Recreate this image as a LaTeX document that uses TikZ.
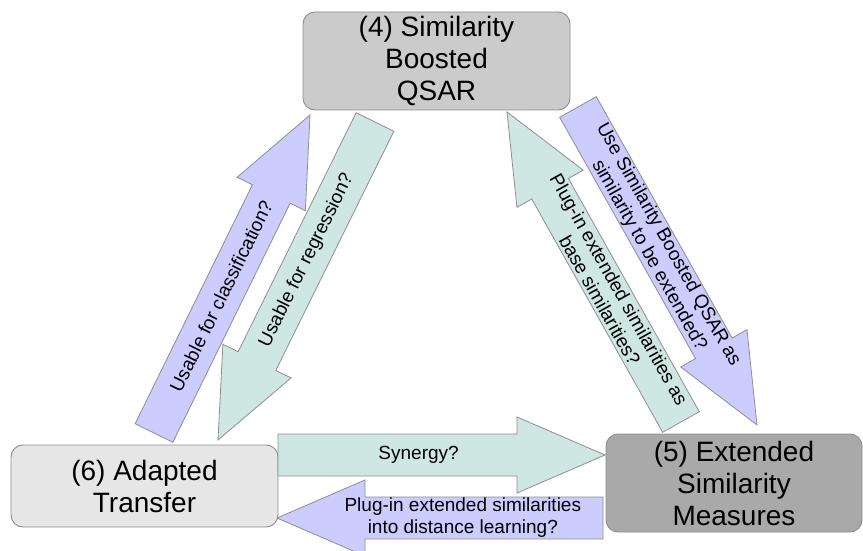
\documentclass[tikz,border=0pt]{standalone}
\usepackage{fontspec}
\setmainfont{Liberation Sans}
\usetikzlibrary{calc}

\definecolor{edgegray}{HTML}{8E8E8E}
\definecolor{boxA}{HTML}{CBCBCB}
\definecolor{boxB}{HTML}{A9A9A9}
\definecolor{boxC}{HTML}{E6E6E6}
\definecolor{lilac}{HTML}{CCCCFF}
\definecolor{mint}{HTML}{CFE7E3}

\tikzset{
  topicbox/.style={draw=edgegray, line width=0.9pt, rounded corners=12pt,
    align=center, inner sep=0pt, font=\fontsize{28}{32}\selectfont},
  arrowshape/.style={draw=edgegray, line width=0.8pt, line join=miter},
  arrowlabel/.style={align=center, inner sep=0pt, font=\fontsize{19}{22}\selectfont}
}

% block arrow from tail coordinate #1 to tip coordinate #2, filled with #3
\newcommand\blockarrow[3]{%
  \coordinate (#1-base) at ($(#2)!88pt!(#1)$);
  \filldraw[arrowshape, fill=#3]
    ($(#1)!21pt!90:(#2)$) -- ($(#1-base)!21pt!90:(#2)$) --
    ($(#1-base)!38pt!90:(#2)$) -- (#2) --
    ($(#1-base)!38pt!-90:(#2)$) -- ($(#1-base)!21pt!-90:(#2)$) --
    ($(#1)!21pt!-90:(#2)$) -- cycle;
}

\begin{document}
\begin{tikzpicture}[x=1pt, y=-1pt]
  \useasboundingbox (0,0) rectangle (863,551);

  % the three topics
  \node[topicbox, fill=boxA, minimum width=267pt, minimum height=98pt]
    (sbq) at (436.5,61) {(4) Similarity\\Boosted\\QSAR};
  \node[topicbox, fill=boxC, minimum width=267pt, minimum height=82pt]
    (adt) at (144.5,486) {(6) Adapted\\Transfer};
  \node[topicbox, fill=boxB, minimum width=256pt, minimum height=98pt]
    (esm) at (734,483) {(5) Extended\\Similarity\\Measures};

  % arrow end points
  \coordinate (clsT) at (154,433);  \coordinate (clsP) at (310,115);
  \coordinate (regT) at (375,122);  \coordinate (regP) at (218,440);
  \coordinate (useT) at (578,107);  \coordinate (useP) at (757,425);
  \coordinate (plgT) at (681,422);  \coordinate (plgP) at (507,112);
  \coordinate (synT) at (278,455);  \coordinate (synP) at (605,455);
  \coordinate (dstT) at (603,518);  \coordinate (dstP) at (277,518);

  \blockarrow{clsT}{clsP}{lilac}
  \blockarrow{regT}{regP}{mint}
  \blockarrow{useT}{useP}{lilac}
  \blockarrow{plgT}{plgP}{mint}
  \blockarrow{synT}{synP}{mint}
  \blockarrow{dstT}{dstP}{lilac}

  % labels along the arrows
  \path (clsT) -- (clsP) node[arrowlabel, sloped, pos=0.43] (clsL) {Usable for classification?};
  \path (regT) -- (regP) node[arrowlabel, sloped, pos=0.435] (regL) {Usable for regression?};
  \path (useT) -- (useP) node[arrowlabel, sloped, pos=0.45] (useL)
    {Use Similarity Boosted QSAR as\\similarity to be extended?};
  \path (plgT) -- (plgP) node[arrowlabel, sloped, pos=0.41] (plgL)
    {Plug-in extended similarities as\\base similarities?};
  \path (synT) -- (synP) node[arrowlabel, pos=0.43] (synL) {Synergy?};
  \path (dstT) -- (dstP) node[arrowlabel, pos=0.43] (dstL)
    {Plug-in extended similarities\\into distance learning?};
\end{tikzpicture}
\end{document}
